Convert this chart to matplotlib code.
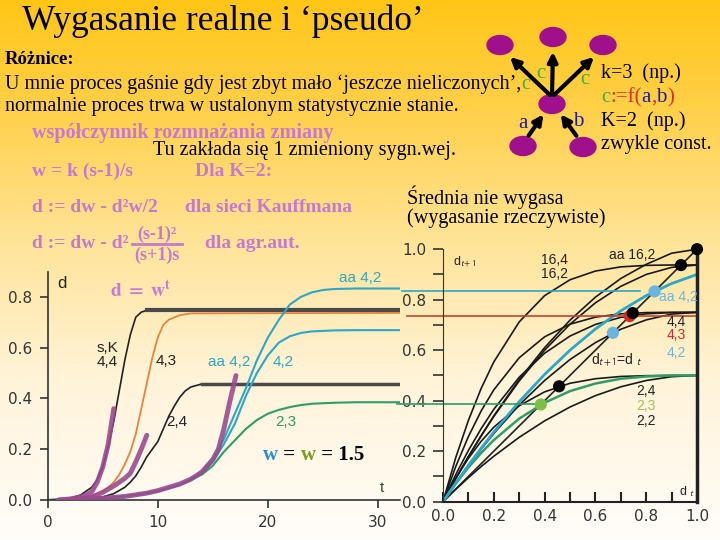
import numpy as np
import matplotlib.pyplot as plt
from matplotlib.patches import Ellipse, FancyArrowPatch

plt.rcParams['mathtext.fontset'] = 'stix'

SERIF = 'Liberation Serif'
SANS = 'Liberation Sans'
VIOLET = '#c679d4'
CYAN = '#2ba7c8'
GREEN = '#2e9d68'
ORANGE = '#e8833c'
PURPLE = '#9b4a8f'
RED = '#c8412c'

# ---- left chart: d(t), start of a change spreading ----
t_44 = [0, 2, 3, 4, 4.5, 5, 5.5, 6, 6.5, 7, 7.5, 8, 8.5, 9]
d_44 = [0, 0.005, 0.02, 0.05, 0.08, 0.13, 0.21, 0.31, 0.43, 0.55, 0.65, 0.72, 0.74, 0.747]
t_43 = [0, 3, 4, 5, 5.5, 6, 6.5, 7, 7.5, 8, 8.5, 9, 9.5, 10, 10.5, 11, 12, 13, 32]
d_43 = [0, 0.005, 0.015, 0.035, 0.05, 0.07, 0.1, 0.14, 0.19, 0.26, 0.36, 0.46, 0.56,
        0.64, 0.69, 0.71, 0.728, 0.735, 0.737]
t_24 = [0, 3, 5, 6, 7, 7.5, 8, 8.5, 9, 9.5, 10, 10.5, 11, 11.5, 12, 12.5, 13, 14]
d_24 = [0, 0.003, 0.012, 0.025, 0.05, 0.07, 0.095, 0.13, 0.17, 0.2, 0.23, 0.28, 0.33,
        0.37, 0.405, 0.43, 0.445, 0.457]
t_aa42 = [0, 5, 8, 10, 12, 13, 14, 15, 16, 17, 18, 19, 20, 21, 22, 23, 24, 25, 26, 28, 32]
d_aa42 = [0, 0.005, 0.02, 0.035, 0.06, 0.08, 0.11, 0.16, 0.24, 0.34, 0.44, 0.55, 0.64,
          0.71, 0.77, 0.8, 0.818, 0.827, 0.831, 0.833, 0.833]
t_42 = [0, 5, 8, 10, 12, 13, 14, 15, 16, 17, 18, 19, 20, 21, 22, 23, 24, 26, 28, 32]
d_42 = [0, 0.005, 0.02, 0.035, 0.06, 0.08, 0.105, 0.15, 0.22, 0.3, 0.41, 0.5, 0.57,
        0.62, 0.645, 0.658, 0.664, 0.668, 0.669, 0.669]
t_23 = [0, 5, 8, 10, 12, 13, 14, 15, 16, 17, 18, 19, 20, 21, 22, 23, 24, 26, 28, 32]
d_23 = [0, 0.005, 0.02, 0.035, 0.06, 0.08, 0.1, 0.135, 0.19, 0.235, 0.28, 0.315, 0.34,
        0.355, 0.366, 0.374, 0.379, 0.383, 0.385, 0.385]
# plateaus (thick grey)
plat_44 = (9, 32, 0.747)
plat_24 = (14, 32, 0.457)
# d = w^t early growth (purple)
p1_t = [1, 2, 3, 3.5, 4, 4.5, 5, 5.5, 6]
p1_d = [0.0, 0.004, 0.012, 0.02, 0.032, 0.07, 0.13, 0.22, 0.36]
p2_t = [1.5, 3, 4, 5, 6, 7, 7.5, 8, 8.5, 9]
p2_d = [0.0, 0.006, 0.012, 0.03, 0.055, 0.085, 0.105, 0.15, 0.2, 0.255]
p3_t = [1, 3, 5, 7, 9, 10, 11, 12, 13, 14, 15, 15.5, 16, 16.5, 17.1]
p3_d = [0.0, 0.003, 0.007, 0.014, 0.027, 0.037, 0.05, 0.063, 0.082, 0.11, 0.16, 0.2,
        0.28, 0.38, 0.49]

# ---- right chart: d(t+1) vs d(t) ----
dt = [0, 0.05, 0.1, 0.15, 0.2, 0.3, 0.4, 0.5, 0.6, 0.7, 0.8, 0.9, 1.0]
m_22 = [0, 0.049, 0.095, 0.139, 0.18, 0.255, 0.32, 0.375, 0.42, 0.455, 0.48, 0.495, 0.5]
m_23 = [0, 0.071, 0.136, 0.193, 0.244, 0.329, 0.392, 0.438, 0.468, 0.487, 0.496, 0.5, 0.5]
m_24 = [0, 0.093, 0.172, 0.239, 0.295, 0.38, 0.435, 0.469, 0.487, 0.496, 0.499, 0.5, 0.5]
m_42 = [0, 0.073, 0.143, 0.208, 0.27, 0.383, 0.48, 0.563, 0.63, 0.683, 0.72, 0.743, 0.75]
m_43 = [0, 0.107, 0.203, 0.289, 0.366, 0.493, 0.588, 0.656, 0.702, 0.73, 0.744, 0.749, 0.75]
m_44 = [0, 0.139, 0.258, 0.359, 0.443, 0.57, 0.653, 0.703, 0.731, 0.744, 0.749, 0.75, 0.75]
m_162 = [0, 0.091, 0.178, 0.26, 0.3375, 0.478, 0.6, 0.703, 0.7875, 0.853, 0.9, 0.928, 0.9375]
m_164 = [0, 0.174, 0.322, 0.448, 0.5535, 0.712, 0.816, 0.879, 0.9135, 0.93, 0.936, 0.9375, 0.9375]
m_aa42 = [0, 0.0735, 0.144, 0.2115, 0.276, 0.396, 0.504, 0.6, 0.684, 0.756, 0.816, 0.864, 0.9]
m_aa162 = [0, 0.0916, 0.179, 0.261, 0.34, 0.484, 0.61, 0.719, 0.81, 0.884, 0.94, 0.984, 1.0]
fix_d = [0.385, 0.457, 0.669, 0.735, 0.747, 0.833, 0.937, 1.0]
fix_c = ['#7cc242', 'black', '#6cb4e0', '#d9262b', 'black', '#6cb4e0', 'black', 'black']

fig = plt.figure(figsize=(7.2, 5.4), dpi=100)

# background gradient, also used as a pixel-coordinate canvas
bg = fig.add_axes([0, 0, 1, 1], zorder=0)
stops = [0, 0.2, 0.45, 0.7, 1.0]
cols = np.array([[255, 198, 22], [255, 208, 72], [255, 228, 152], [255, 243, 216],
                 [255, 253, 250]]) / 255
yy = np.linspace(0, 1, 540)
grad = np.stack([np.interp(yy, stops, cols[:, i]) for i in range(3)], axis=-1)[:, None, :]
bg.imshow(grad, aspect='auto', extent=(0, 720, 540, 0))
bg.set_xlim(0, 720)
bg.set_ylim(540, 0)
bg.axis('off')


def seg_text(ax, x, y, parts, **kw):
    # write differently coloured pieces one after another
    t = ax.text(x, y, parts[0][0], color=parts[0][1], va='bottom', **kw)
    for s, c in parts[1:]:
        t = ax.annotate(s, xy=(1, 0), xycoords=t, color=c, va='bottom', **kw)
    return t


bg.text(22, 21, 'Wygasanie realne i ‘pseudo’', family=SERIF, fontsize=25.5, va='center')
bg.text(5, 59, 'Różnice:', family=SERIF, fontsize=13.5, weight='bold', va='center')
seg_text(bg, 5, 94, [('U mnie proces gaśnie gdy jest zbyt mało ‘jeszcze nieliczonych’,', 'black'),
                     ('c', '#3cb043')], family=SERIF, fontsize=14.5)
bg.text(5, 106, 'normalnie proces trwa w ustalonym statystycznie stanie.', family=SERIF,
        fontsize=14.5, va='center')
bg.text(32, 133, 'współczynnik rozmnażania zmiany', family=SERIF, fontsize=14.5,
        weight='bold', color=VIOLET, va='center')
bg.text(153, 150, 'Tu zakłada się 1 zmieniony sygn.wej.', family=SERIF, fontsize=14.5,
        va='center')
bg.text(32, 171, 'w = k (s-1)/s', family=SERIF, fontsize=14, weight='bold', color=VIOLET,
        va='center')
bg.text(195, 171, 'Dla K=2:', family=SERIF, fontsize=14, weight='bold', color=VIOLET, va='center')
bg.text(32, 207, 'd := dw - d²w/2', family=SERIF, fontsize=14, weight='bold',
        color=VIOLET, va='center')
bg.text(185, 208, 'dla sieci Kauffmana', family=SERIF, fontsize=14, weight='bold',
        color=VIOLET, va='center')
bg.text(32, 244, 'd := dw - d²', family=SERIF, fontsize=14, weight='bold',
        color=VIOLET, va='center')
bg.text(157, 234, '(s-1)²', family=SERIF, fontsize=13, weight='bold', color=VIOLET,
        ha='center', va='center')
bg.plot([132, 182], [244, 244], color=VIOLET, lw=2)
bg.text(157, 255, '(s+1)s', family=SERIF, fontsize=13, weight='bold', color=VIOLET,
        ha='center', va='center')
bg.text(205, 243, 'dla agr.aut.', family=SERIF, fontsize=14, weight='bold', color=VIOLET,
        va='center')
bg.text(407, 197, 'Średnia nie wygasa', family=SERIF, fontsize=14.5, va='center')
bg.text(407, 218, '(wygasanie rzeczywiste)', family=SERIF, fontsize=14.5, va='center')
bg.text(110, 290, r'$\mathbf{d\ =\ w}^{\mathbf{t}}$', fontsize=14, color=VIOLET, va='center')
seg_text(bg, 263, 465, [('w', '#2a8fd0'), (' = ', 'black'), ('w', '#7b9a1e'), (' = 1.5', 'black')],
         family=SERIF, fontsize=15, weight='bold')

# node diagram (top right)
nodes = [(500, 45), (553, 37), (603, 45), (552, 104), (523, 146), (583, 147)]
for (x, y) in nodes:
    bg.add_patch(Ellipse((x, y), 26, 19, color='#a0108c', zorder=2))
for a, b in [((552, 97), (508, 55)), ((552, 97), (553, 49)), ((552, 97), (596, 55)),
             ((527, 138), (545, 112)), ((578, 138), (559, 112))]:
    bg.add_patch(FancyArrowPatch(a, b, arrowstyle='-|>', mutation_scale=14, lw=3,
                                 color='black', zorder=3))
bg.text(541, 74, 'c', family=SERIF, fontsize=15, color='#3cb043', ha='center', va='center')
bg.text(585, 79, 'c', family=SERIF, fontsize=15, color='#3cb043', ha='center', va='center')
bg.text(523, 123, 'a', family=SERIF, fontsize=15, color='#1c1ca0', ha='center', va='center')
bg.text(578, 121, 'b', family=SERIF, fontsize=15, color='#1c1ca0', ha='center', va='center')
bg.text(601, 73, 'k=3  (np.)', family=SERIF, fontsize=14.5, va='center')
seg_text(bg, 601, 107, [('c', '#3cb043'), (':=f(', '#e0302a'), ('a', '#1c1ca0'),
                        (',', '#e0302a'), ('b', '#1c1ca0'), (')', '#e0302a')],
         family=SERIF, fontsize=15)
bg.text(601, 121, 'K=2  (np.)', family=SERIF, fontsize=14.5, va='center')
bg.text(601, 145, 'zwykle const.', family=SERIF, fontsize=14.5, va='center')

# ---- left chart ----
axL = fig.add_axes([47.7 / 720, 40 / 540, 352.3 / 720, 228 / 540], zorder=2)
axL.patch.set_alpha(0)
axL.plot(t_44, d_44, color='#222', lw=1.2)
axL.plot(plat_44[:2], [plat_44[2]] * 2, color='#4a4a4a', lw=3)
axL.plot(t_43, d_43, color=ORANGE, lw=1.3)
axL.plot(t_24, d_24, color='#222', lw=1.2)
axL.plot(plat_24[:2], [plat_24[2]] * 2, color='#4a4a4a', lw=2.5)
axL.plot(t_aa42, d_aa42, color=CYAN, lw=1.5)
axL.plot(t_42, d_42, color=CYAN, lw=1.5)
axL.plot(t_23, d_23, color=GREEN, lw=1.5)
for tt, dd in [(p1_t, p1_d), (p2_t, p2_d), (p3_t, p3_d)]:
    axL.plot(tt, dd, color=PURPLE, lw=3.5, alpha=0.9, solid_capstyle='round', zorder=4)
axL.set_xlim(0, 32.0)
axL.set_ylim(0, 0.898)
axL.set_xticks([0, 10, 20, 30])
axL.set_yticks([0, 0.2, 0.4, 0.6, 0.8])
axL.set_yticklabels(['0.0', '0.2', '0.4', '0.6', '0.8'])
axL.tick_params(direction='out', length=6, width=1.2, color='#333', labelcolor='#333',
                labelsize=11, pad=5)
for s in ['top', 'right']:
    axL.spines[s].set_visible(False)
for s in ['left', 'bottom']:
    axL.spines[s].set_color('#333')
    axL.spines[s].set_linewidth(1.2)
lab = dict(family=SANS, fontsize=11, ha='center', va='center')
axL.text(0.85, 0.854, 'd', family=SANS, fontsize=12, va='center', color='#222')
axL.text(5.4, 0.60, 's,K', color='#222', **lab)
axL.text(5.4, 0.543, '4,4', color='#222', **lab)
axL.text(10.8, 0.547, '4,3', color='#222', **lab)
axL.text(16.5, 0.545, 'aa 4,2', color=CYAN, **lab)
axL.text(21.4, 0.545, '4,2', color=CYAN, **lab)
axL.text(11.7, 0.308, '2,4', color='#222', **lab)
axL.text(21.6, 0.308, '2,3', color=GREEN, **lab)
axL.text(28.4, 0.873, 'aa 4,2', color=CYAN, **lab)
axL.text(30.35, 0.046, 't', color='#444', **lab)

# ---- right chart ----
axR = fig.add_axes([443 / 720, 38.3 / 540, 254 / 720, 252.5 / 540], zorder=3)
axR.patch.set_alpha(0)
axR.plot([0, 1], [0, 1], color='#222', lw=1.2)
for m in [m_22, m_24, m_42, m_43, m_44, m_162, m_164, m_aa162]:
    axR.plot(dt, m, color='#1a1a1a', lw=1.2)
axR.plot(dt, m_23, color=GREEN, lw=1.8)
axR.plot(dt, m_aa42, color=CYAN, lw=2)
# links from the plateaus on the left
axR.plot([-0.16, 0.775], [fix_d[5]] * 2, color=CYAN, lw=1.2, clip_on=False)
axR.plot([-0.14, 1.0], [fix_d[3]] * 2, color=RED, lw=1.2, clip_on=False)
axR.plot([-0.18, fix_d[0]], [fix_d[0]] * 2, color=GREEN, lw=1.2, clip_on=False)
axR.scatter(fix_d, fix_d, s=60, c=fix_c, zorder=5, clip_on=False)
axR.set_xlim(0, 1)
axR.set_ylim(0, 1)
axR.set_xticks(np.arange(0, 1.01, 0.2))
axR.set_xticks(np.arange(0.1, 1.0, 0.2), minor=True)
axR.set_yticks(np.arange(0, 1.01, 0.2))
axR.set_yticks(np.arange(0.1, 1.0, 0.2), minor=True)
axR.set_xticklabels(['0.0', '0.2', '0.4', '0.6', '0.8', '1.0'])
axR.set_yticklabels(['0.0', '0.2', '0.4', '0.6', '0.8', '1.0'])
axR.tick_params(axis='x', which='both', direction='in', length=7, width=1.5, color='#222')
axR.tick_params(axis='y', which='both', direction='out', length=7, width=1.2, color='#333')
axR.tick_params(which='major', labelsize=11, labelcolor='#333', pad=5)
axR.spines['top'].set_visible(False)
axR.spines['left'].set_color('#333')
axR.spines['bottom'].set_color('#222')
axR.spines['bottom'].set_linewidth(1.5)
axR.spines['right'].set_color('#222')
axR.spines['right'].set_linewidth(2.5)
rl = dict(family=SANS, fontsize=10, ha='center', va='center')
axR.text(0.04, 0.95, r'd$_{\mathsf{t+1}}$', family=SANS, fontsize=9, va='center', color='#222')
axR.text(0.44, 0.956, '16,4', color='#222', **rl)
axR.text(0.44, 0.90, '16,2', color='#222', **rl)
axR.text(0.744, 0.977, 'aa 16,2', color='#222', **rl)
axR.text(0.925, 0.81, 'aa 4,2', color='#6cb4e0', **rl)
axR.text(0.92, 0.712, '4,4', color='#222', **rl)
axR.text(0.92, 0.66, '4,3', color='#d9262b', **rl)
axR.text(0.92, 0.589, '4,2', color='#6cb4e0', **rl)
axR.text(0.685, 0.561, r'd$_{\mathsf{t+1}}$=d $_{\mathsf{t}}$', color='#222', **rl)
axR.text(0.80, 0.44, '2,4', color='#222', **rl)
axR.text(0.80, 0.38, '2,3', color='#9cc24a', **rl)
axR.text(0.80, 0.32, '2,2', color='#222', **rl)
axR.text(0.96, 0.04, r'd $_{\mathsf{t}}$', family=SANS, fontsize=9, ha='center', va='center',
         color='#222')

plt.savefig('out.png', dpi=100)
